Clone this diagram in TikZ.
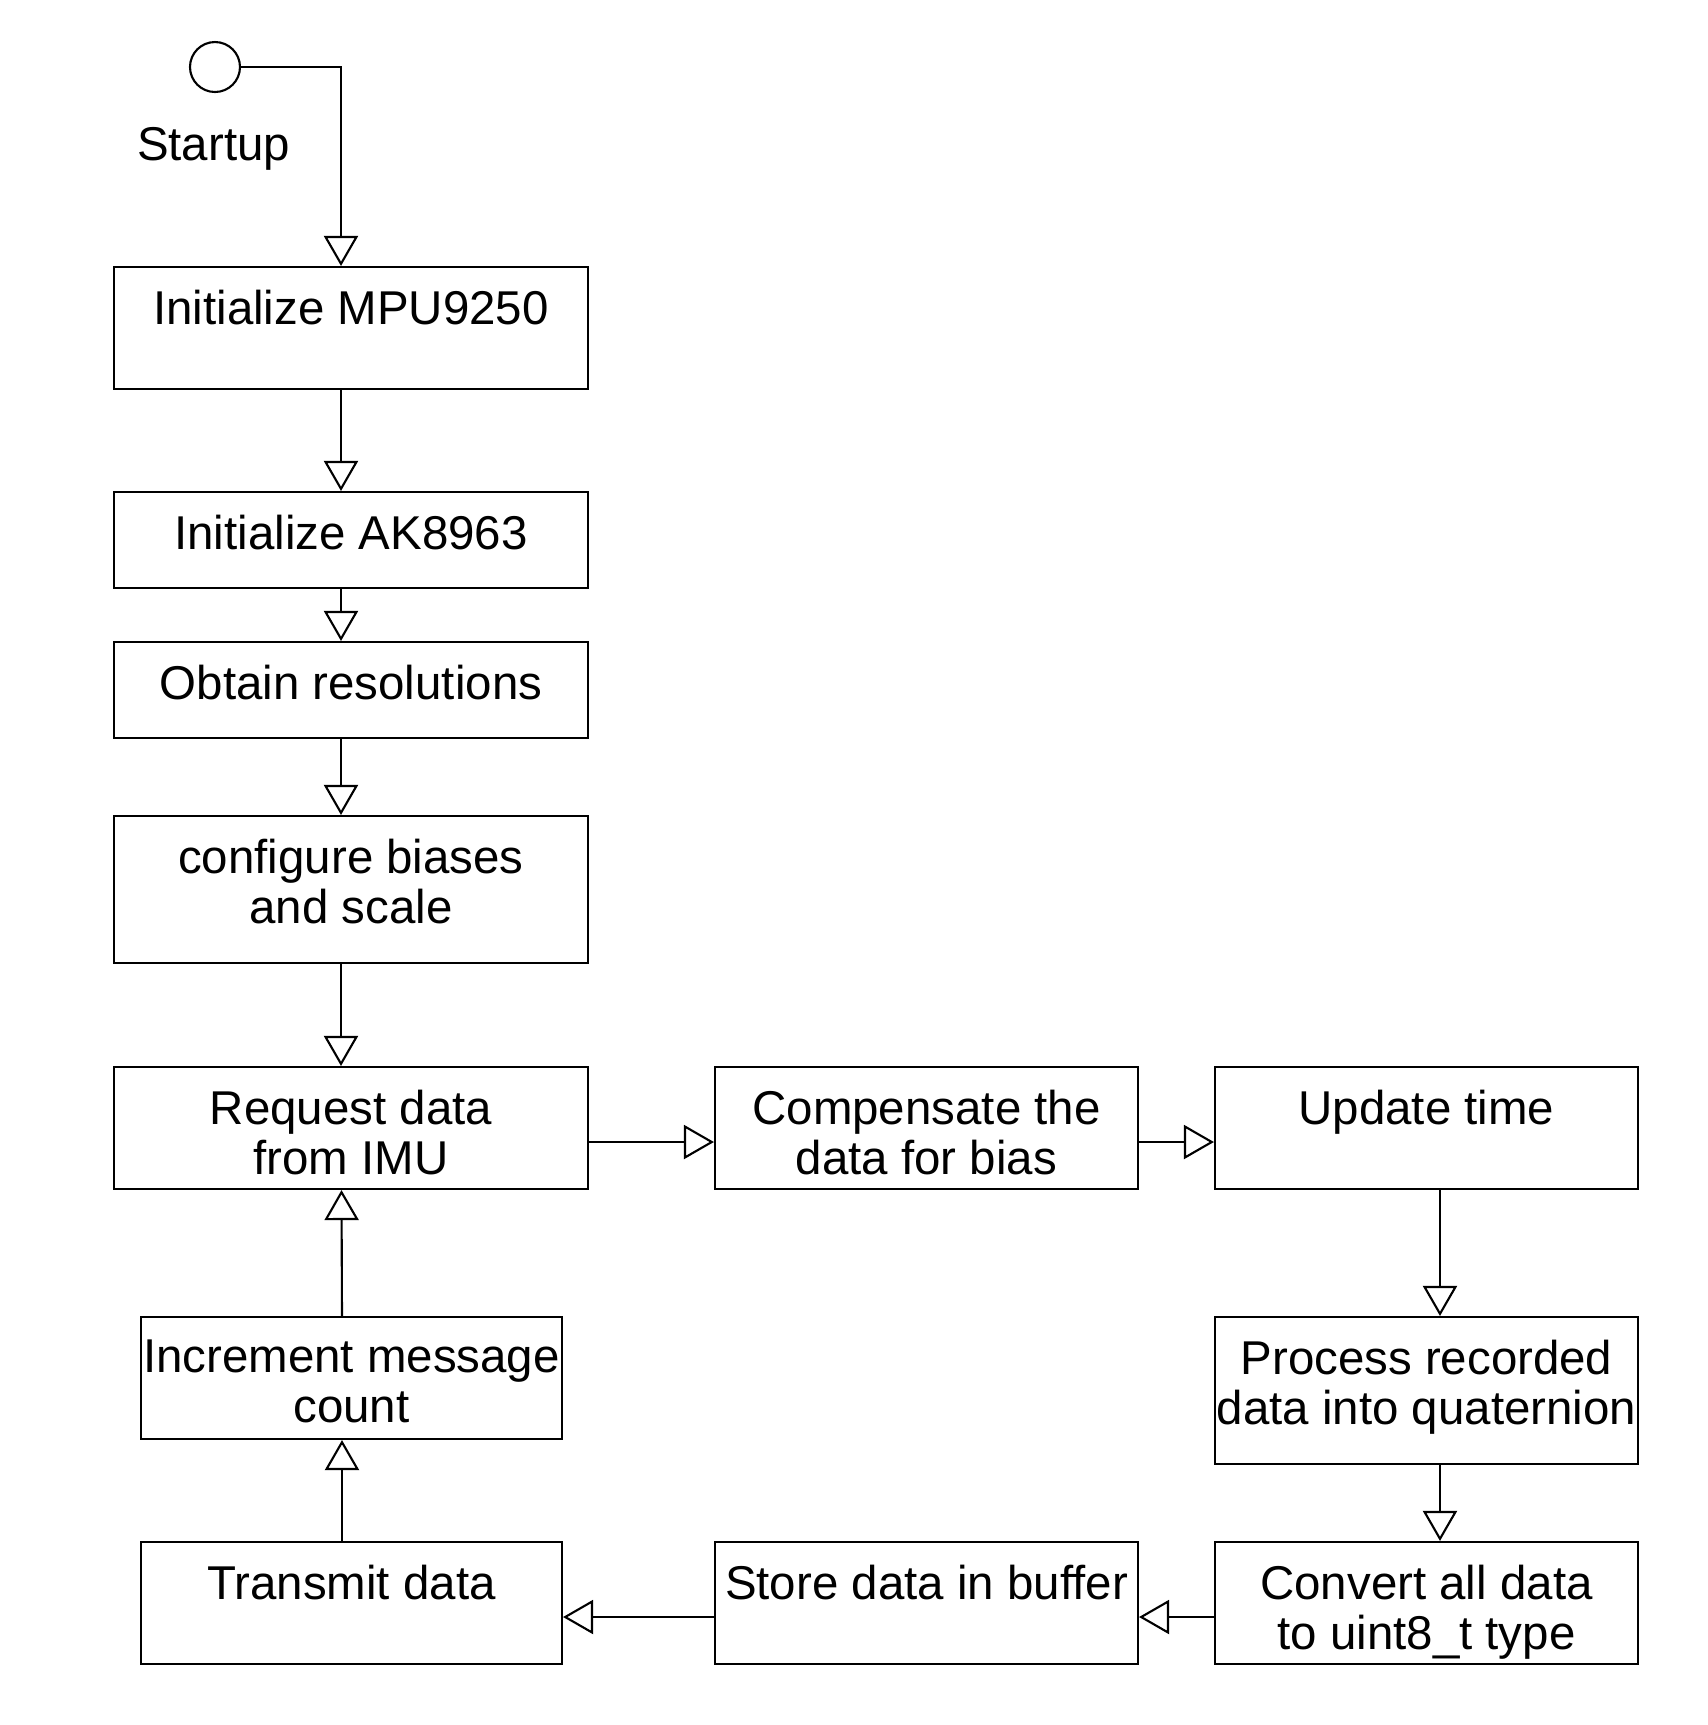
\documentclass[tikz,border=0pt]{standalone}
\usepackage{fontspec}
\setmainfont{Liberation Sans}
\usetikzlibrary{arrows.meta}

\tikzset{
  stepbox/.style={rectangle, draw, line width=0.6pt},
  boxlabel/.style={anchor=north, align=center, inner xsep=0pt, inner ysep=0.23cm},
  flow/.style={line width=0.6pt, -{Triangle[open, length=0.3cm, width=0.34cm]}}
}

\begin{document}
\begin{tikzpicture}[font=\fontsize{13.5}{14.4}\selectfont]
    \useasboundingbox (0,0) rectangle (17.08,-17.25);

    % start point
    \node[circle, draw, line width=0.6pt, minimum size=0.5cm, inner sep=0pt] (start) at (2.15,-0.67) {};
    \node (startlbl) at (2.135,-1.49) {Startup};

    % left column
    \node[stepbox, minimum width=4.74cm, minimum height=1.22cm, label={[boxlabel]north:Initialize MPU9250}] (mpu) at (3.51,-3.28) {};
    \node[stepbox, minimum width=4.74cm, minimum height=0.96cm, label={[boxlabel]north:Initialize AK8963}] (ak) at (3.51,-5.40) {};
    \node[stepbox, minimum width=4.74cm, minimum height=0.96cm, label={[boxlabel]north:Obtain resolutions}] (res) at (3.51,-6.90) {};
    \node[stepbox, minimum width=4.74cm, minimum height=1.47cm, label={[boxlabel]north:{configure biases\\and scale}}] (bias) at (3.51,-8.895) {};
    \node[stepbox, minimum width=4.74cm, minimum height=1.22cm, label={[boxlabel]north:{Request data\\from IMU}}] (req) at (3.51,-11.28) {};
    \node[stepbox, minimum width=4.21cm, minimum height=1.22cm, label={[boxlabel]north:{Increment message\\count}}] (inc) at (3.515,-13.78) {};
    \node[stepbox, minimum width=4.21cm, minimum height=1.22cm, label={[boxlabel]north:Transmit data}] (trans) at (3.515,-16.03) {};

    % middle column
    \node[stepbox, minimum width=4.23cm, minimum height=1.22cm, label={[boxlabel]north:{Compensate the\\data for bias}}] (comp) at (9.265,-11.28) {};
    \node[stepbox, minimum width=4.23cm, minimum height=1.22cm, label={[boxlabel]north:Store data in buffer}] (store) at (9.265,-16.03) {};

    % right column
    \node[stepbox, minimum width=4.23cm, minimum height=1.22cm, label={[boxlabel]north:Update time}] (upd) at (14.265,-11.28) {};
    \node[stepbox, minimum width=4.23cm, minimum height=1.47cm, label={[boxlabel]north:{Process recorded\\data into quaternion}}] (proc) at (14.265,-13.905) {};
    \node[stepbox, minimum width=4.23cm, minimum height=1.22cm, label={[boxlabel]north:{Convert all data\\to uint8\_t type}}] (conv) at (14.265,-16.03) {};

    % connectors
    \draw[flow] (start.east) -| ([xshift=-0.1cm]mpu.north);
    \draw[flow] ([xshift=-0.1cm]mpu.south) -- ([xshift=-0.1cm]ak.north);
    \draw[flow] ([xshift=-0.1cm]ak.south) -- ([xshift=-0.1cm]res.north);
    \draw[flow] ([xshift=-0.1cm]res.south) -- ([xshift=-0.1cm]bias.north);
    \draw[flow] ([xshift=-0.1cm]bias.south) -- ([xshift=-0.1cm]req.north);
    \draw[flow] ([yshift=-0.14cm]req.east) -- ([yshift=-0.14cm]comp.west);
    \draw[flow] ([yshift=-0.14cm]comp.east) -- ([yshift=-0.14cm]upd.west);
    \draw[flow] ([xshift=0.135cm]upd.south) -- ([xshift=0.135cm]proc.north);
    \draw[flow] ([xshift=0.135cm]proc.south) -- ([xshift=0.135cm]conv.north);
    \draw[flow] ([yshift=-0.14cm]conv.west) -- ([yshift=-0.14cm]store.east);
    \draw[flow] ([yshift=-0.14cm]store.west) -- ([yshift=-0.14cm]trans.east);
    \draw[flow] ([xshift=-0.095cm]trans.north) -- ([xshift=-0.095cm]inc.south);
    \draw[flow] ([xshift=-0.095cm]inc.north) -- ([xshift=-0.095cm]req.south);
\end{tikzpicture}
\end{document}
